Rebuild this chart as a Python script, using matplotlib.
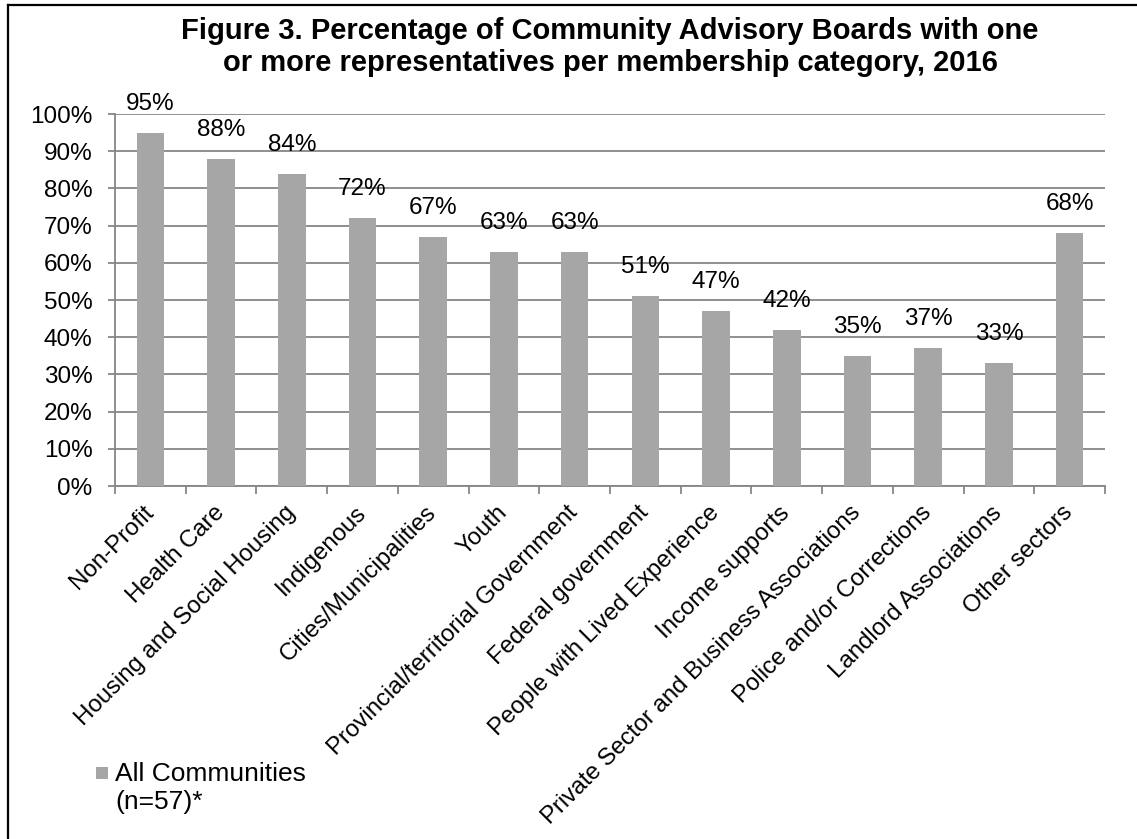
import matplotlib.pyplot as plt
import matplotlib.ticker as mticker
from matplotlib.patches import Rectangle
from matplotlib.lines import Line2D
from matplotlib.legend_handler import HandlerPatch

plt.rcParams['font.family'] = ['Liberation Sans', 'DejaVu Sans']

categories = ["Non-Profit", "Health Care", "Housing and Social Housing", "Indigenous",
              "Cities/Municipalities", "Youth", "Provincial/territorial Government",
              "Federal government", "People with Lived Experience", "Income supports",
              "Private Sector and Business Associations", "Police and/or Corrections",
              "Landlord Associations", "Other sectors"]
values = [95, 88, 84, 72, 67, 63, 63, 51, 47, 42, 35, 37, 33, 68]
series_name = "All Communities\n(n=57)*"
title = ("Figure 3. Percentage of Community Advisory Boards with one\n"
         "or more representatives per membership category, 2016")

bar_color = '#A6A6A6'
grid_color = '#868686'

fig = plt.figure(figsize=(11.37, 8.39), dpi=100)
ax = fig.add_axes([0.1011, 0.4207, 0.8708, 0.4434])

x = list(range(len(categories)))
bars = ax.bar(x, values, width=0.39, color=bar_color, zorder=3, label=series_name)

for xi, v in zip(x, values):
    ax.annotate(f"{v}%", (xi, v), xytext=(0, 16.5), textcoords='offset points',
                ha='center', va='baseline', fontsize=17.5, zorder=4)

ax.set_xlim(-0.5, len(categories) - 0.5)
ax.set_ylim(0, 100)
ax.yaxis.set_major_locator(mticker.MultipleLocator(10))
ax.yaxis.set_major_formatter(mticker.PercentFormatter(decimals=0))
ax.grid(axis='y', color=grid_color, linewidth=1.3, zorder=0)

ax.set_xticks(x)
ax.set_xticklabels(categories, rotation=45, ha='right', va='center',
                   rotation_mode='anchor', fontsize=17.3)
ax.set_xticks([i - 0.5 for i in range(len(categories) + 1)], minor=True)
ax.tick_params(axis='x', which='major', length=0, pad=17)
ax.tick_params(axis='x', which='minor', length=6, color=grid_color, width=1.3)
ax.tick_params(axis='y', length=5, color=grid_color, width=1.3, pad=11, labelsize=17.5)

for side in ('top', 'right'):
    ax.spines[side].set_visible(False)
for side in ('left', 'bottom'):
    ax.spines[side].set_color(grid_color)
    ax.spines[side].set_linewidth(1.3)

fig.text(0.5365, 0.980, title, ha='center', va='top', fontsize=21,
         fontweight='bold', linespacing=1.17)


# legend square sits level with the first line of the label
def shifted_square(legend, orig_handle, xdescent, ydescent, width, height, fontsize):
    return Rectangle((-xdescent + width - 9, -ydescent + 13), 9, 9)


fig.legend(handles=[bars.patches[0]], labels=[series_name], loc='upper left',
           bbox_to_anchor=(0.0836, 0.0918), frameon=False, fontsize=19,
           handlelength=0.5, handletextpad=0.27, borderaxespad=0, borderpad=0,
           handler_map={Rectangle: HandlerPatch(patch_func=shifted_square)})

# frame lines on left and top edges
fig.add_artist(Line2D([0.0068, 0.0068], [0, 0.994], transform=fig.transFigure,
                      color='black', linewidth=1.6))
fig.add_artist(Line2D([0.0068, 1], [0.994, 0.994], transform=fig.transFigure,
                      color='black', linewidth=1.6))

fig.savefig('out.png', dpi=100)
